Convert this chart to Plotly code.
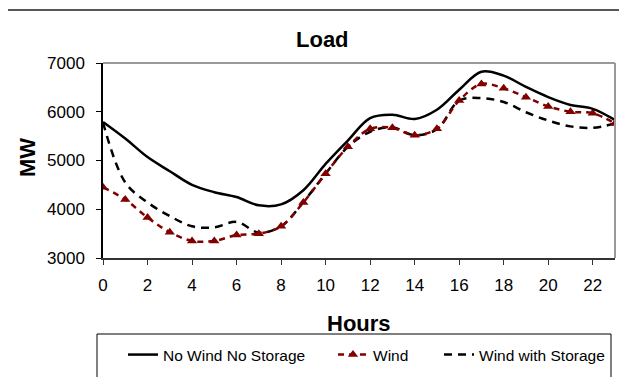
import plotly.graph_objs as go

hours = list(range(24))
no_wind_no_storage = [5790, 5450, 5070, 4780, 4500, 4350, 4250, 4080, 4100, 4390,
                      4930, 5410, 5870, 5940, 5850, 6040, 6450, 6820, 6740, 6510,
                      6300, 6140, 6060, 5830]
wind = [4450, 4200, 3830, 3530, 3350, 3350, 3470, 3500, 3650, 4140,
        4730, 5280, 5650, 5670, 5520, 5650, 6230, 6570, 6480, 6300,
        6110, 6000, 5970, 5760]
wind_with_storage = [5780, 4550, 4140, 3860, 3650, 3630, 3740, 3520, 3650, 4150,
                     4730, 5280, 5590, 5680, 5520, 5640, 6230, 6280, 6200, 5990,
                     5820, 5700, 5670, 5760]
x_ticks = list(range(0, 23, 2))
y_ticks = [3000, 4000, 5000, 6000, 7000]

FONT = "Arial, Liberation Sans, sans-serif"
RED = "#800000"

# the page body adds an 8px margin, so the figure is shifted by that much
OFF = 8
W, H = 627 - OFF, 377 - OFF
# plot area in screen pixels: x 103..615, y 63..258
L, R, T, B = 103, 615, 63, 258


def px(x):
    return (x - L) / (R - L)


def py(y):
    return (B - y) / (B - T)


fig = go.Figure()
fig.add_trace(go.Scatter(x=hours, y=wind_with_storage, name="Wind with Storage",
                         mode="lines", line=dict(color="black", width=2.5, dash="8px,6px",
                                                 shape="spline"),
                         legend="legend3"))
fig.add_trace(go.Scatter(x=hours, y=wind, name="Wind", mode="lines+markers",
                         line=dict(color=RED, width=2.5, dash="6px,5px", shape="spline"),
                         marker=dict(symbol="triangle-up", size=9, color=RED),
                         legend="legend2"))
fig.add_trace(go.Scatter(x=hours, y=no_wind_no_storage, name="No Wind No Storage",
                         mode="lines", line=dict(color="black", width=2.5, shape="spline"),
                         legend="legend"))

leg = dict(orientation="h", xanchor="left", yanchor="middle", y=py(355),
           bgcolor="rgba(0,0,0,0)", borderwidth=0,
           font=dict(family=FONT, size=15.5, color="black"))

fig.update_layout(
    width=W, height=H,
    margin=dict(l=L - OFF, r=627 - R, t=T - OFF, b=377 - B, autoexpand=False),
    paper_bgcolor="white", plot_bgcolor="white",
    font=dict(family=FONT, color="black"),
    showlegend=True,
    legend=dict(leg, x=px(123)),
    legend2=dict(leg, x=px(333)),
    legend3=dict(leg, x=px(439)),
    xaxis=dict(range=[0, 23], tickvals=x_ticks, showgrid=False, zeroline=False,
               showline=True, linecolor="#333333", linewidth=1.5,
               ticks="outside", ticklen=5, tickcolor="#333333",
               tickfont=dict(size=17), ticklabelstandoff=6),
    yaxis=dict(range=[3000, 7000], tickvals=y_ticks, showgrid=False, zeroline=False,
               showline=True, linecolor="black", linewidth=1.5,
               ticks="outside", ticklen=5, tickcolor="black",
               tickfont=dict(size=17), ticklabelstandoff=8),
    annotations=[
        dict(text="<b>Load</b>", x=px(322), y=py(39), xref="paper", yref="paper",
             showarrow=False, font=dict(size=22), xanchor="center", yanchor="middle"),
        dict(text="<b>Hours</b>", x=px(359), y=py(323), xref="paper", yref="paper",
             showarrow=False, font=dict(size=22), xanchor="center", yanchor="middle"),
        dict(text="<b>MW</b>", x=px(27), y=py(158), xref="paper", yref="paper",
             showarrow=False, font=dict(size=22), textangle=-90,
             xanchor="center", yanchor="middle"),
    ],
    shapes=[
        # gray top/right borders of the plot area
        dict(type="line", xref="paper", yref="paper", x0=0, x1=1, y0=1, y1=1,
             line=dict(color="#999999", width=2)),
        dict(type="line", xref="paper", yref="paper", x0=1, x1=1, y0=0, y1=1,
             line=dict(color="#999999", width=2)),
        # outer chart frame (runs off the picture)
        dict(type="rect", xref="paper", yref="paper", x0=px(6), x1=px(660),
             y0=py(400), y1=py(10), line=dict(color="#222222", width=1.5)),
        # legend box
        dict(type="rect", xref="paper", yref="paper", x0=px(97), x1=px(611),
             y0=py(395), y1=py(334), line=dict(color="black", width=1)),
    ],
)

fig.write_html("out.html")
